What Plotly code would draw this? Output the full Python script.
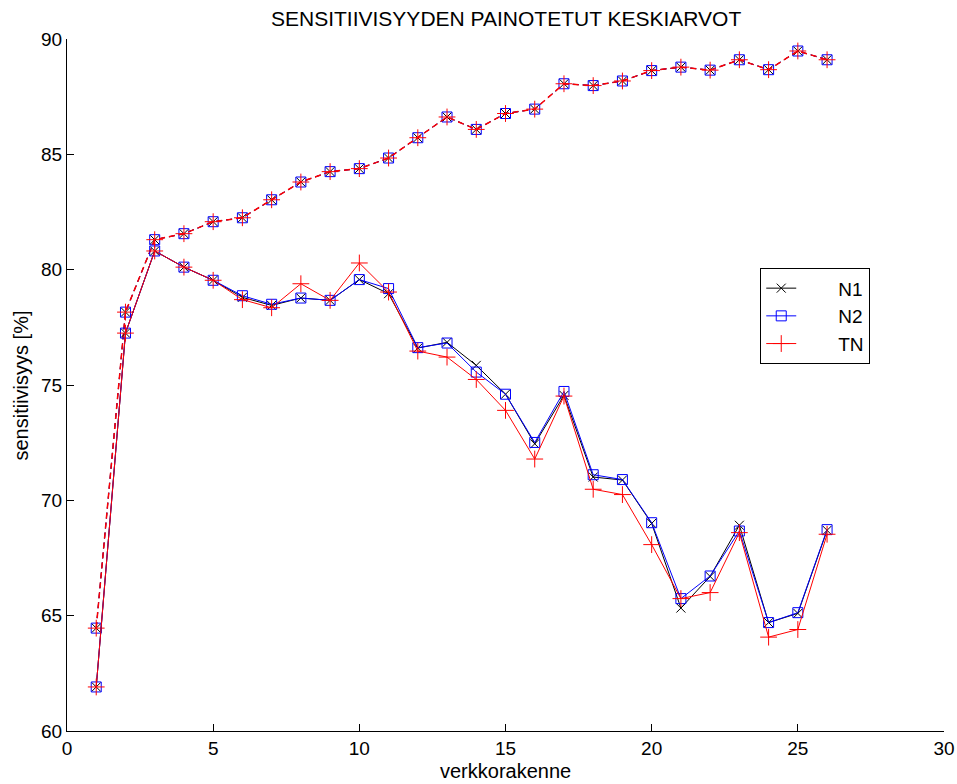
import plotly.graph_objects as go

# x positions: network structure index
verkkorakenne = list(range(1, 27))

# Solid series (lower curves)
n1_values = [61.91, 77.25, 80.81, 80.11, 79.54, 78.80, 78.45, 78.77, 78.67, 79.57,
             78.96, 76.60, 76.85, 75.85, 74.60, 72.45, 74.55, 71.01, 70.88, 69.00,
             65.33, 66.70, 68.92, 64.70, 65.10, 68.70]
n2_values = [61.91, 77.25, 80.81, 80.11, 79.54, 78.87, 78.50, 78.77, 78.67, 79.57,
             79.18, 76.62, 76.82, 75.56, 74.60, 72.51, 74.72, 71.11, 70.90, 69.03,
             65.74, 66.72, 68.67, 64.70, 65.13, 68.73]
tn_values = [61.91, 77.25, 80.81, 80.11, 79.54, 78.70, 78.35, 79.39, 78.67, 80.29,
             79.03, 76.47, 76.21, 75.24, 73.90, 71.79, 74.52, 70.48, 70.25, 68.08,
             65.74, 66.00, 68.60, 64.07, 64.40, 68.53]

# Dashed series (upper curves, all three overlap)
n1_dashed = [64.46, 78.16, 81.30, 81.56, 82.08, 82.25, 83.03, 83.80, 84.25, 84.38,
             84.84, 85.72, 86.62, 86.08, 86.77, 86.96, 88.06, 87.98, 88.18, 88.63,
             88.78, 88.65, 89.10, 88.67, 89.48, 89.10]
n2_dashed = list(n1_dashed)
tn_dashed = list(n1_dashed)

series_names = ["N1", "N2", "TN"]
x_ticks = [0, 5, 10, 15, 20, 25, 30]
y_ticks = [60, 65, 70, 75, 80, 85, 90]

FONT = "Liberation Sans, Arial, sans-serif"
NBSP = "\u00a0"

styles = {
    "N1": dict(color="black", symbol="x-thin-open", size=9),
    "N2": dict(color="blue", symbol="square-open", size=10),
    "TN": dict(color="red", symbol="cross-thin-open", size=12),
}

fig = go.Figure()

for name, ys in zip(series_names, [n1_dashed, n2_dashed, tn_dashed]):
    st = styles[name]
    fig.add_trace(go.Scatter(
        x=verkkorakenne, y=ys, mode="lines+markers", name=name, showlegend=False,
        line=dict(color=st["color"], width=1.5 if name == "TN" else 1, dash="6px,4px"),
        marker=dict(symbol=st["symbol"], size=st["size"], color=st["color"],
                    line=dict(color=st["color"], width=1)),
    ))

for name, ys in zip(series_names, [n1_values, n2_values, tn_values]):
    st = styles[name]
    fig.add_trace(go.Scatter(
        x=verkkorakenne, y=ys, mode="lines+markers", name=NBSP * 7 + name,
        line=dict(color=st["color"], width=1),
        marker=dict(symbol=st["symbol"], size=st["size"], color=st["color"],
                    line=dict(color=st["color"], width=1)),
    ))

# the page body has an 8px margin; figure coordinates = screen - 8
OFF = 8
W, H = 941, 768
left, right, top, bottom = 67.3 - OFF, 944.5 - OFF, 38.7 - OFF, 730.7 - OFF
L, R, T, B = left, W - right, top, H - bottom
pw, ph = right - left, bottom - top

def px(sx):
    return (sx - OFF - left) / pw

def py(sy):
    return (bottom - (sy - OFF)) / ph

fig.update_layout(
    width=W, height=H,
    margin=dict(l=L, r=R, t=T, b=B, pad=0),
    paper_bgcolor="white", plot_bgcolor="white",
    font=dict(family=FONT, size=19, color="black"),
    showlegend=True,
    legend=dict(
        x=px(760.7), y=py(268.0), xanchor="left", yanchor="top",
        bordercolor="black", borderwidth=1, bgcolor="white",
        font=dict(family=FONT, size=19), tracegroupgap=0,
    ),
    annotations=[
        dict(text="SENSITIIVISYYDEN PAINOTETUT KESKIARVOT", xref="paper", yref="paper",
             x=0.5, y=py(18.5), xanchor="center", yanchor="middle",
             showarrow=False, font=dict(family=FONT, size=21)),
        dict(text="verkkorakenne", xref="paper", yref="paper",
             x=0.5, y=py(771), xanchor="center", yanchor="middle",
             showarrow=False, font=dict(family=FONT, size=20)),
        dict(text="sensitiivisyys [%]", xref="paper", yref="paper",
             x=px(21.5), y=py(385), xanchor="center", yanchor="middle",
             textangle=-90, showarrow=False, font=dict(family=FONT, size=20)),
    ],
)

fig.update_xaxes(
    range=[0, 30], tickvals=x_ticks, ticktext=[str(v) for v in x_ticks],
    showline=True, linecolor="black", linewidth=1, mirror=False,
    ticks="inside", ticklen=7, tickcolor="black", tickwidth=1,
    showgrid=False, zeroline=False, tickfont=dict(family=FONT, size=19),
    ticklabeloverflow="allow", automargin=False,
)
fig.update_yaxes(
    range=[60, 90], tickvals=y_ticks, ticktext=[str(v) for v in y_ticks],
    showline=True, linecolor="black", linewidth=1, mirror=False,
    ticks="inside", ticklen=7, tickcolor="black", tickwidth=1,
    showgrid=False, zeroline=False, tickfont=dict(family=FONT, size=19),
    automargin=False,
)

# let edge texts ("30", x title) paint into the page margin without making the page wider
POST = (
    "document.body.style.margin='8px 0 0 8px';"
    "var d=document.querySelector('.plotly-graph-div');"
    "d.style.width='949px';d.style.height='776px';d.style.overflow='hidden';"
    "d.querySelectorAll('.main-svg').forEach(function(s){s.style.overflow='visible';});"
)

fig.write_html("out.html", config={"displayModeBar": False}, post_script=POST)
